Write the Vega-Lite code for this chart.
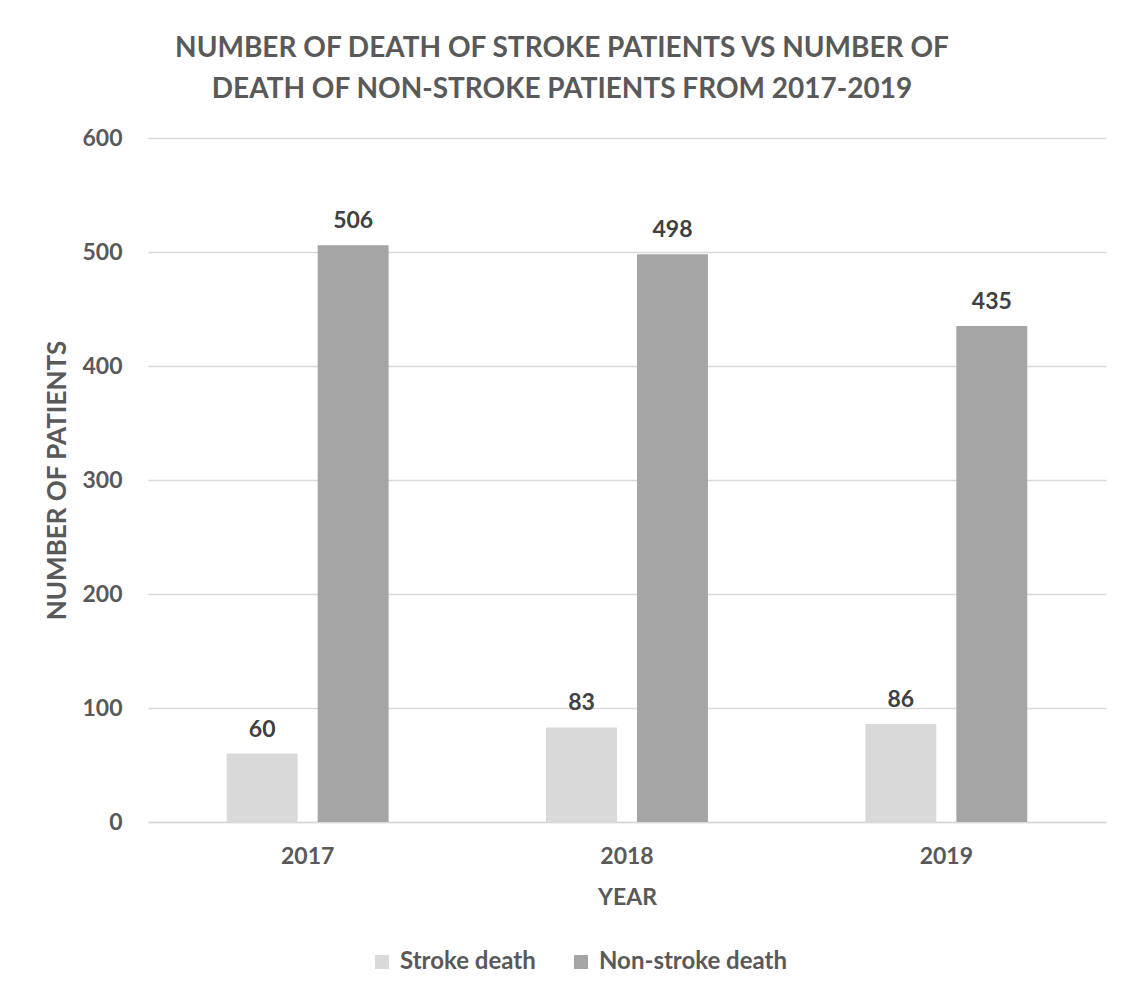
{
  "$schema": "https://vega.github.io/schema/vega-lite/v6.json",
  "autosize": {"type": "none"},
  "width": 958,
  "height": 684,
  "padding": {"left": 148, "top": 138, "right": 16, "bottom": 174},
  "background": "white",
  "config": {"view": {"stroke": null}},
  "title": {
    "text": ["NUMBER OF DEATH OF STROKE PATIENTS VS NUMBER OF", "DEATH OF NON-STROKE PATIENTS FROM 2017-2019"],
    "font": "Lato",
    "fontWeight": "bold",
    "fontSize": 28,
    "lineHeight": 41,
    "color": "#595959",
    "anchor": "middle",
    "dx": -65,
    "offset": 23
  },
  "data": {
    "values": [
      {"year": "2017", "type": "Stroke death", "value": 60},
      {"year": "2017", "type": "Non-stroke death", "value": 506},
      {"year": "2018", "type": "Stroke death", "value": 83},
      {"year": "2018", "type": "Non-stroke death", "value": 498},
      {"year": "2019", "type": "Stroke death", "value": 86},
      {"year": "2019", "type": "Non-stroke death", "value": 435}
    ]
  },
  "encoding": {
    "x": {
      "field": "year",
      "type": "nominal",
      "scale": {"paddingInner": 0.493, "paddingOuter": 0.2465},
      "axis": {
        "title": "YEAR",
        "labelAngle": 0,
        "labelFont": "Lato",
        "labelFontWeight": "bold",
        "labelFontSize": 23,
        "labelColor": "#595959",
        "labelPadding": 23,
        "ticks": false,
        "domainColor": "#d9d9d9",
        "domainWidth": 1.5,
        "titleFont": "Lato",
        "titleFontWeight": "bold",
        "titleFontSize": 23,
        "titleColor": "#595959",
        "titlePadding": 18
      }
    },
    "xOffset": {
      "field": "type",
      "type": "nominal",
      "sort": ["Stroke death", "Non-stroke death"],
      "scale": {"paddingInner": 0.22, "paddingOuter": 0}
    },
    "y": {
      "field": "value",
      "type": "quantitative",
      "scale": {"domain": [0, 600]},
      "axis": {
        "title": "NUMBER OF PATIENTS",
        "values": [0, 100, 200, 300, 400, 500, 600],
        "domain": false,
        "ticks": false,
        "gridColor": "#d9d9d9",
        "gridWidth": 1.5,
        "labelFont": "Lato",
        "labelFontWeight": "bold",
        "labelFontSize": 23,
        "labelColor": "#595959",
        "labelPadding": 26,
        "titleFont": "Lato",
        "titleFontWeight": "bold",
        "titleFontSize": 26,
        "titleColor": "#595959",
        "titlePadding": 11
      }
    }
  },
  "layer": [
    {
      "mark": {"type": "bar"},
      "encoding": {
        "color": {
          "field": "type",
          "type": "nominal",
          "sort": ["Stroke death", "Non-stroke death"],
          "scale": {"domain": ["Stroke death", "Non-stroke death"], "range": ["#d9d9d9", "#a5a5a5"]},
          "legend": {
            "title": null,
            "orient": "none",
            "direction": "horizontal",
            "legendX": 222,
            "legendY": 812,
            "symbolType": "square",
            "symbolSize": 196,
            "symbolStrokeWidth": 0,
            "symbolOpacity": 1,
            "labelFont": "Lato",
            "labelFontWeight": "bold",
            "labelFontSize": 24,
            "labelColor": "#595959",
            "labelOffset": 6,
            "labelLimit": 400,
            "columnPadding": 33
          }
        }
      }
    },
    {
      "mark": {"type": "text", "baseline": "alphabetic", "dy": -17, "font": "Lato", "fontWeight": "bold", "fontSize": 23, "color": "#404040"},
      "encoding": {
        "text": {"field": "value", "type": "quantitative"}
      }
    }
  ]
}
